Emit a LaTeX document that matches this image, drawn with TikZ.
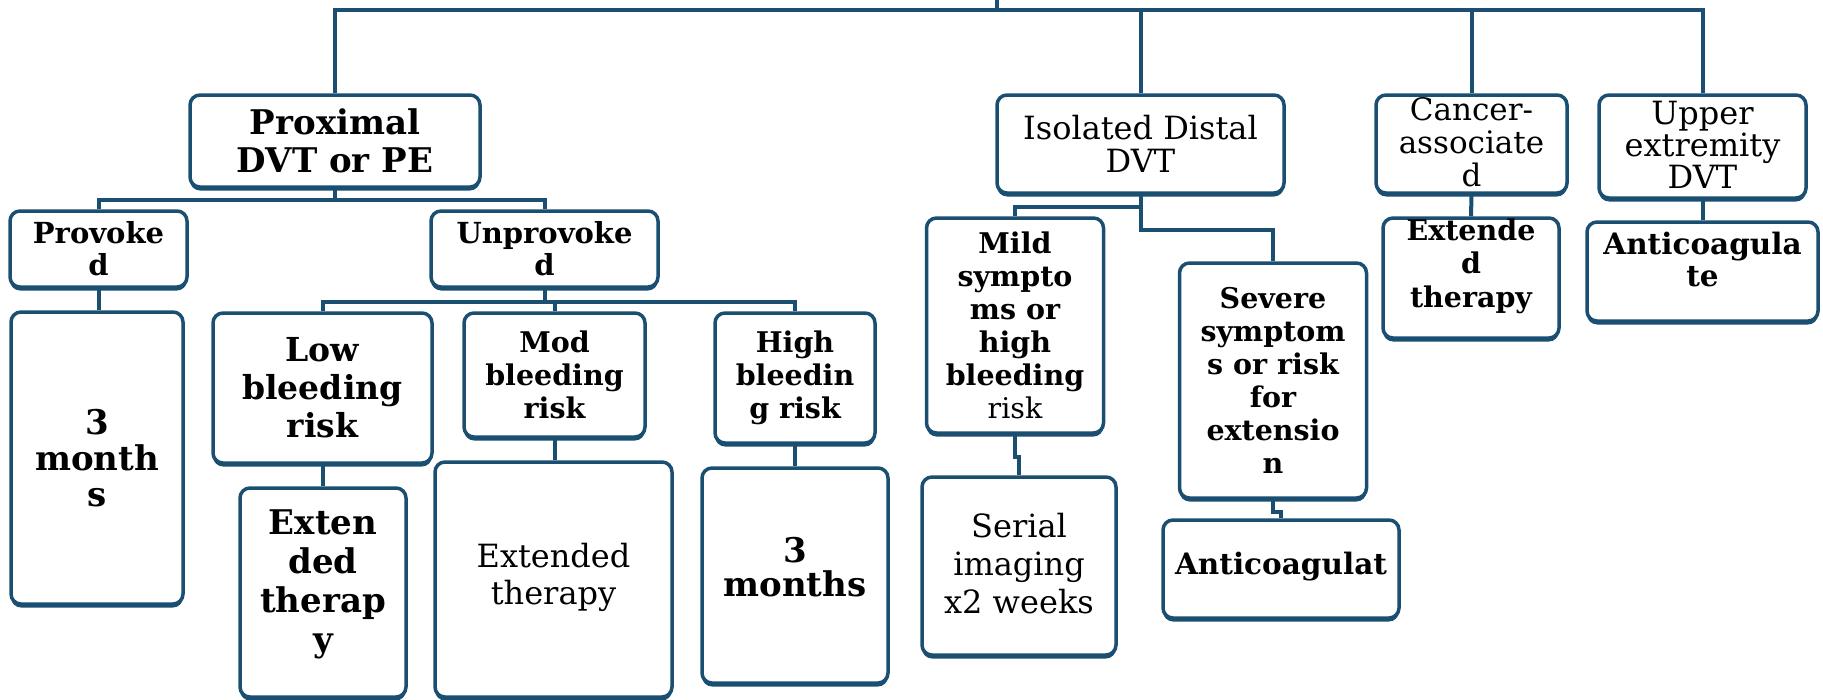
\documentclass[tikz,border=0pt]{standalone}
\usepackage{fontspec}
\setmainfont{DejaVu Serif}
\usetikzlibrary{shadows}
\definecolor{edge}{RGB}{27,79,114}
\tikzset{
  box/.style={draw=edge, line width=3.5pt, rounded corners=10pt, fill=white, inner sep=0pt,
    general shadow={fill=edge, shadow yshift=-3.5pt}},
  conn/.style={draw=edge, line width=4pt},
  lb/.style={align=center, inner sep=0pt, text=black, font=\bfseries\fontsize{28.5}{33}\selectfont},
  lr/.style={align=center, inner sep=0pt, text=black, font=\fontsize{31}{33}\selectfont},
}
\begin{document}
\begin{tikzpicture}[x=1pt,y=-1pt]
\useasboundingbox (0,0) rectangle (1823,699);
% boxes
\node[box, minimum width=290pt, minimum height=92pt,
  label={[lb, font=\bfseries\fontsize{34}{38}\selectfont]center:{Proximal\\DVT or PE}}] (prox) at (335,141) {};
\node[box, minimum width=177pt, minimum height=76pt,
  label={[lb, font=\bfseries\fontsize{29}{32}\selectfont]center:{Provoke\\d}}] (prov) at (98.5,249) {};
\node[box, minimum width=227pt, minimum height=76pt,
  label={[lb, font=\bfseries\fontsize{29}{32}\selectfont]center:{Unprovoke\\d}}] (unprov) at (544.5,249) {};
\node[box, minimum width=172pt, minimum height=292pt,
  label={[lb, font=\bfseries\fontsize{34}{36}\selectfont]center:{3\\month\\s}}] (three1) at (97,458) {};
\node[box, minimum width=219pt, minimum height=150pt,
  label={[lb, font=\bfseries\fontsize{33}{38}\selectfont]center:{Low\\bleeding\\risk}}] (low) at (322.5,388) {};
\node[box, minimum width=181pt, minimum height=124pt,
  label={[lb]center:{Mod\\bleeding\\risk}}] (mod) at (554.5,375) {};
\node[box, minimum width=160pt, minimum height=130pt,
  label={[lb]center:{High\\bleedin\\g risk}}] (high) at (795,378) {};
\node[box, minimum width=166pt, minimum height=209pt,
  label={[lb, font=\bfseries\fontsize{34}{39}\selectfont, yshift=8pt]center:{Exten\\ded\\therap\\y}}] (ext1) at (323,592.5) {};
\node[box, minimum width=237pt, minimum height=235pt,
  label={[lr, font=\fontsize{32}{37}\selectfont, yshift=2pt]center:{Extended\\therapy}}] (ext2) at (553.5,579.5) {};
\node[box, minimum width=186pt, minimum height=215pt,
  label={[lb, font=\bfseries\fontsize{34}{34}\selectfont, yshift=8pt]center:{3\\months}}] (three2) at (795,575.5) {};
\node[box, minimum width=287pt, minimum height=98pt,
  label={[lr, font=\fontsize{32}{33}\selectfont]center:{Isolated Distal\\DVT}}] (iso) at (1140.5,144) {};
\node[box, minimum width=177pt, minimum height=215pt,
  label={[lb]center:{Mild\\sympto\\ms or\\high\\bleeding\\{\mdseries risk}}}] (mild) at (1015,325.5) {};
\node[box, minimum width=187pt, minimum height=235pt,
  label={[lb]center:{Severe\\symptom\\s or risk\\for\\extensio\\n}}] (severe) at (1273,380.5) {};
\node[box, minimum width=194pt, minimum height=178pt,
  label={[lr, font=\fontsize{32}{38}\selectfont, yshift=2pt]center:{Serial\\imaging\\x2 weeks}}] (serial) at (1019,566) {};
\node[box, minimum width=236pt, minimum height=98pt,
  label={[lb, font=\bfseries\fontsize{29.5}{33}\selectfont, yshift=2pt]center:{Anticoagulat}}] (anti1) at (1281,569) {};
\node[box, minimum width=191pt, minimum height=98pt,
  label={[lr, yshift=2pt]center:{Cancer-\\associate\\d}}] (cancer) at (1471.5,144) {};
\node[box, minimum width=207pt, minimum height=103pt,
  label={[lr, font=\fontsize{32}{32}\selectfont, yshift=2pt]center:{Upper\\extremity\\DVT}}] (upper) at (1702.5,146.5) {};
\node[box, minimum width=176pt, minimum height=120pt,
  label={[lb, font=\bfseries\fontsize{28.5}{33.5}\selectfont, yshift=12pt]center:{Extende\\d\\therapy}}] (ext3) at (1471,278) {};
\node[box, minimum width=231pt, minimum height=99pt,
  label={[lb, font=\bfseries\fontsize{29.5}{32}\selectfont, yshift=12pt]center:{Anticoagula\\te}}] (anti2) at (1702.5,271.5) {};
% junctions
\coordinate (rootstem) at (997,0);
\coordinate (bar) at (997,10);
\coordinate (pj) at (335,200);
\coordinate (uj) at (544.5,302);
\coordinate (ij1) at (1140.5,207);
\coordinate (ij2) at (1140.5,230);
% connectors
\draw[conn] (rootstem) -- (bar);
\draw[conn] (prox.north) |- (bar) -| (upper.north);
\draw[conn] (bar) -| (iso.north);
\draw[conn] (bar) -| (cancer.north);
\draw[conn] (prox.south) -- (pj);
\draw[conn] (prov.north) |- (pj) -| (unprov.north);
\draw[conn] (prov.south) -- (prov.south |- three1.north);
\draw[conn] (unprov.south) -- (uj);
\draw[conn] (low.north) |- (uj) -| (high.north);
\draw[conn] (mod.north) -- (mod.north |- uj);
\draw[conn] (low.south) -- (low.south |- ext1.north);
\draw[conn] (mod.south) -- (mod.south |- ext2.north);
\draw[conn] (high.south) -- (high.south |- three2.north);
\draw[conn] (iso.south) -- (ij2) -| (severe.north);
\draw[conn] (ij1) -| (mild.north);
\draw[conn] (mild.south) -- ++(0,22) -| (serial.north);
\draw[conn] (severe.south) -- ++(0,12) -| (anti1.north);
\draw[conn] (cancer.south) -- (ext3.north);
\draw[conn] (upper.south) -- (anti2.north);
\end{tikzpicture}
\end{document}
